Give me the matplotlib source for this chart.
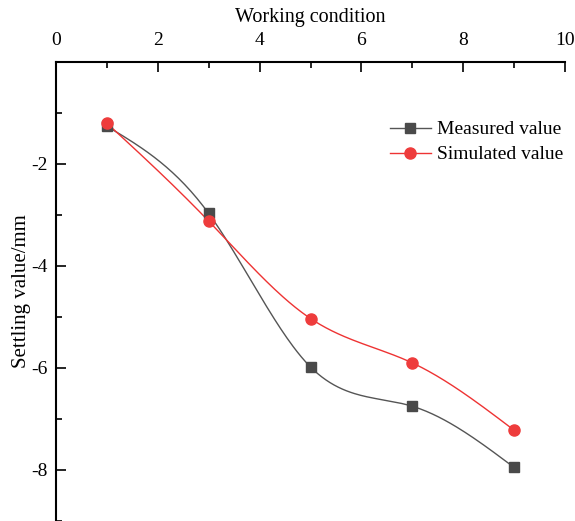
import numpy as np
import matplotlib
matplotlib.use("Agg")
import matplotlib.pyplot as plt
from matplotlib.ticker import MultipleLocator

conditions = [1, 3, 5, 7, 9]
measured = [-1.26, -2.97, -5.98, -6.75, -7.95]
simulated = [-1.20, -3.12, -5.03, -5.90, -7.22]
x_ticks = [0, 2, 4, 6, 8, 10]
y_ticks = [-8, -6, -4, -2]


def natural_spline(x, y, n=200):
    x = np.asarray(x, float); y = np.asarray(y, float)
    m = len(x); h = np.diff(x)
    A = np.zeros((m, m)); b = np.zeros(m)
    A[0, 0] = A[-1, -1] = 1
    for i in range(1, m - 1):
        A[i, i - 1] = h[i - 1]; A[i, i] = 2 * (h[i - 1] + h[i]); A[i, i + 1] = h[i]
        b[i] = 3 * ((y[i + 1] - y[i]) / h[i] - (y[i] - y[i - 1]) / h[i - 1])
    c = np.linalg.solve(A, b)
    xs = np.linspace(x[0], x[-1], n); ys = np.empty_like(xs)
    for k, xv in enumerate(xs):
        i = min(np.searchsorted(x, xv, side="right") - 1, m - 2)
        bi = (y[i + 1] - y[i]) / h[i] - h[i] * (2 * c[i] + c[i + 1]) / 3
        di = (c[i + 1] - c[i]) / (3 * h[i])
        t = xv - x[i]
        ys[k] = y[i] + bi * t + c[i] * t ** 2 + di * t ** 3
    return xs, ys


plt.rcParams["font.family"] = ["Liberation Serif", "DejaVu Serif"]
plt.rcParams["axes.unicode_minus"] = False
fig = plt.figure(figsize=(5.75, 5.21), dpi=100)
ax = fig.add_axes([56 / 575, 0.0, (565 - 56) / 575, (521 - 62) / 521])

gray_line = "#555555"; gray_mk = "#4a4a4a"
red_line = "#ee3333"; red_mk = "#ee3c3c"

xs, ys = natural_spline(conditions, measured)
ax.plot(xs, ys, color=gray_line, lw=1.0, zorder=2)
ax.plot(conditions, measured, ls="none", marker="s", ms=7, color=gray_mk, zorder=3)
xs, ys = natural_spline(conditions, simulated)
ax.plot(xs, ys, color=red_line, lw=1.0, zorder=2)
ax.plot(conditions, simulated, ls="none", marker="o", ms=8, color=red_mk, zorder=3)

# legend handles
ax.plot([], [], color=gray_line, lw=1.0, marker="s", ms=7, mfc=gray_mk, mec=gray_mk, label="Measured value")
ax.plot([], [], color=red_line, lw=1.0, marker="o", ms=8, mfc=red_mk, mec=red_mk, label="Simulated value")
ax.legend(loc="upper left", bbox_to_anchor=(0.64, 0.889), frameon=False, fontsize=14,
          handlelength=2.15, handletextpad=0.3, labelspacing=0.38, borderaxespad=0)

ax.set_xlim(0, 10)
ax.set_ylim(-9, 0)
ax.xaxis.tick_top()
ax.xaxis.set_label_position("top")
ax.set_xticks(x_ticks)
ax.set_yticks(y_ticks)
ax.xaxis.set_minor_locator(MultipleLocator(1))
ax.yaxis.set_minor_locator(MultipleLocator(1))
ax.tick_params(which="both", direction="in", labelsize=14, width=1.2)
ax.tick_params(axis="x", which="both", pad=9.5)
ax.tick_params(axis="y", which="both", pad=6)
ax.tick_params(which="major", length=7)
ax.tick_params(which="minor", length=4)
ax.spines["right"].set_visible(False)
ax.spines["bottom"].set_visible(False)
for s in ("left", "top"):
    ax.spines[s].set_linewidth(1.5)
ax.set_xlabel("Working condition", fontsize=14.5, labelpad=7)
ax.set_ylabel("Settling value/mm", fontsize=15, labelpad=0)

fig.savefig("out.png", dpi=100)
